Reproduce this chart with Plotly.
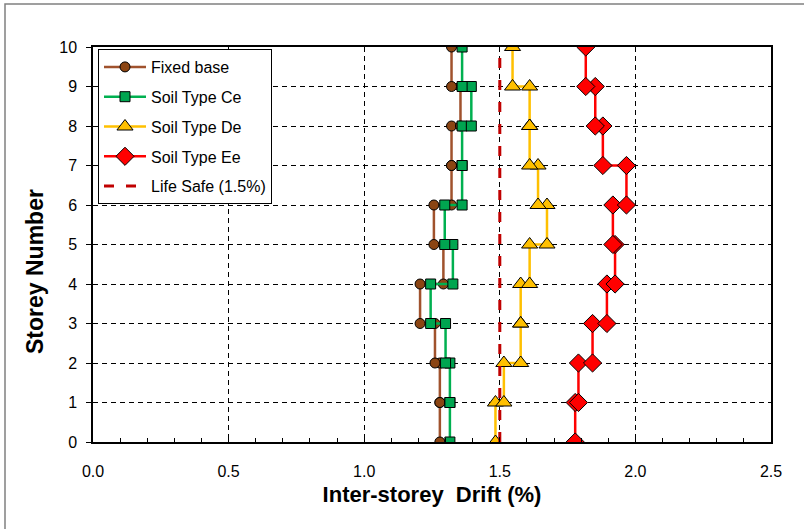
import plotly.graph_objects as go

# Inter-storey drift (%) for storeys 1..10
storeys = list(range(1, 11))
fixed_base = [1.279, 1.279, 1.261, 1.206, 1.292, 1.257, 1.322, 1.322, 1.355, 1.322]
soil_ce = [1.316, 1.316, 1.300, 1.245, 1.327, 1.297, 1.361, 1.361, 1.395, 1.361]
soil_de = [1.484, 1.515, 1.577, 1.577, 1.610, 1.674, 1.641, 1.610, 1.610, 1.547]
soil_ee = [1.778, 1.790, 1.842, 1.895, 1.925, 1.917, 1.967, 1.880, 1.852, 1.817]
life_safe = 1.5
x_ticks = [0.0, 0.5, 1.0, 1.5, 2.0, 2.5]
y_ticks = list(range(0, 11))


def steps(drifts):
    xs, ys = [], []
    for s, d in zip(storeys, drifts):
        xs += [d, d]
        ys += [s - 1, s]
    return xs, ys


W, H = 804, 529
L, R, T, B = 93, 33, 47, 87
pw, ph = W - L - R, H - T - B

series = [
    ("Fixed base", fixed_base, "#A0522D", "#8B4513", "circle", 10),
    ("Soil Type Ce", soil_ce, "#00B050", "#00A550", "square", 10),
    ("Soil Type De", soil_de, "#FFC000", "#FFC000", "triangle-up", 14),
    ("Soil Type Ee", soil_ee, "#FF0000", "#FF0000", "diamond", 14),
]

fig = go.Figure()
for i, (name, vals, lc, mc, sym, sz) in enumerate(series):
    xs, ys = steps(vals)
    fig.add_trace(go.Scatter(
        x=xs, y=ys, name=name, mode="lines+markers", legendgroup=f"g{i}",
        line=dict(color=lc, width=2.5),
        marker=dict(symbol=sym, size=sz, color=mc, line=dict(color="black", width=1)),
    ))

fig.add_trace(go.Scatter(
    x=[life_safe, life_safe], y=[y_ticks[0], y_ticks[-1]], name="Life Safe (1.5%)",
    mode="lines", legendgroup="g4",
    line=dict(color="#C00000", width=3, dash="10px,12px"),
))

fig.update_layout(
    width=W, height=H,
    margin=dict(l=L, r=R, t=T, b=B),
    paper_bgcolor="white", plot_bgcolor="white",
    font=dict(family="Liberation Sans, Arial", size=16, color="black"),
    showlegend=True,
    legend=dict(
        x=(98 - L) / pw, y=(H - B - 49) / ph, xanchor="left", yanchor="top",
        bgcolor="white", bordercolor="black", borderwidth=1,
        font=dict(size=16, family="Liberation Sans, Arial"),
        tracegroupgap=6, traceorder="grouped", itemwidth=42,
    ),
    xaxis=dict(
        range=[0, 2.5], tickvals=x_ticks, ticktext=[f"{v:.1f}" for v in x_ticks],
        showgrid=True, gridcolor="black", gridwidth=1, griddash="5px,4px",
        showline=True, linecolor="black", linewidth=1.5, mirror=True,
        ticks="inside", ticklen=5, tickcolor="black",
        minor=dict(dtick=0.1, ticks="inside", ticklen=4, tickcolor="black", showgrid=False),
        zeroline=False, ticklabelstandoff=14,
        title=dict(text="<b>Inter-storey  Drift (%)</b>", font=dict(size=22), standoff=8),
    ),
    yaxis=dict(
        range=[0, 10], tickvals=y_ticks,
        showgrid=True, gridcolor="black", gridwidth=1, griddash="5px,4px",
        showline=True, linecolor="black", linewidth=1.5, mirror=True,
        ticks="outside", ticklen=5, tickcolor="black",
        zeroline=False, ticklabelstandoff=6,
    ),
)

# y-axis title placed as in the reference (slightly below the plot centre)
fig.add_annotation(
    text="<b>Storey Number</b>", textangle=-90, showarrow=False,
    xref="paper", yref="paper", x=(35 - L) / pw, y=(H - B - 272) / ph,
    xanchor="center", yanchor="middle", font=dict(size=23),
)

# outer chart frame
fig.add_shape(type="rect", xref="paper", yref="paper",
              x0=(5 - L) / pw, x1=(W + 10 - L) / pw,
              y0=(H - B - (H + 10)) / ph, y1=(H - B - 4) / ph,
              line=dict(color="#808080", width=1.5), fillcolor="rgba(0,0,0,0)", layer="below")

fig.write_html("out.html")
